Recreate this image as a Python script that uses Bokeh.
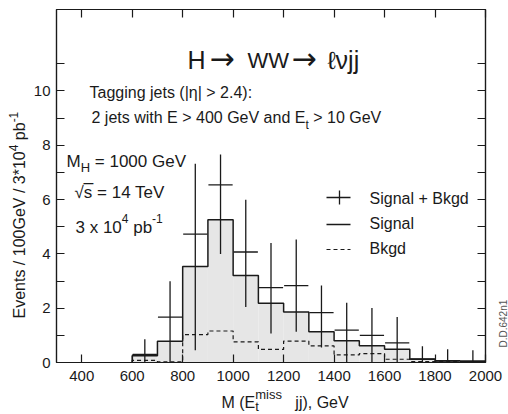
import math
from bokeh.plotting import figure
from bokeh.models import LinearAxis, FixedTicker, Range1d
from bokeh.core.properties import value
from bokeh.embed import file_html
from bokeh.resources import INLINE

# ---------------- data ----------------
bin_edges = [600, 700, 800, 900, 1000, 1100, 1200, 1300, 1400, 1500, 1600, 1700, 1800, 1900, 2000]
signal = [0.25, 0.78, 3.54, 5.26, 3.20, 2.18, 1.86, 1.13, 0.80, 0.62, 0.49, 0.13, 0.06, 0.05]
bkgd = [0.08, 0.02, 1.03, 1.16, 0.76, 0.48, 0.79, 0.61, 0.28, 0.33, 0.12, 0.03, 0.03, 0.03]
sig_bkgd = [0.30, 1.67, 4.73, 6.54, 4.07, 2.76, 2.83, 1.84, 1.19, 1.00, 0.72, 0.12, 0.05, 0.05]
sig_bkgd_hi = [0.86, 2.99, 7.32, 7.66, 5.99, 4.40, 4.53, 2.84, 2.20, 2.01, 1.68, 0.60, 0.49, 0.45]
sig_bkgd_lo = [0.0, 0.0, 0.45, 4.00, 2.04, 1.07, 1.13, 0.55, 0.0, 0.0, 0.0, 0.0, 0.0, 0.0]

x_ticks = [400, 600, 800, 1000, 1200, 1400, 1600, 1800, 2000]
y_ticks = [0, 2, 4, 6, 8, 10]
y_minor = [1, 3, 5, 7, 9, 11]

# ---------------- style / geometry ----------------
FONT = "Liberation Sans"
INK = "#1a1a1a"
FILL = "#e6e6e6"
X_MIN, X_MAX, Y_MIN, Y_MAX = 300, 2000, 0, 13
FL, FR, FT, FB = 56, 485, 9, 362   # frame edges in page pixels
BASE_FIX = 0.3                      # text baseline correction (fraction of font size)


def dx(px):
    return X_MIN + (px - FL) * (X_MAX - X_MIN) / (FR - FL)


def dy(py):
    return Y_MIN + (FB - py) * (Y_MAX - Y_MIN) / (FB - FT)


W = {' ': 278, '!': 278, '(': 333, ')': 333, '*': 389, '+': 584, ',': 278, '-': 333,
     '.': 278, '/': 278, ':': 278, '=': 584, '>': 584, '|': 260, '_': 556,
     'A': 667, 'B': 667, 'D': 722, 'E': 667, 'G': 778, 'H': 722, 'I': 278, 'M': 833,
     'T': 611, 'V': 667, 'W': 944,
     'a': 556, 'b': 556, 'd': 556, 'e': 556, 'g': 556, 'h': 556, 'i': 222, 'j': 222,
     'k': 500, 'l': 222, 'm': 833, 'n': 556, 'p': 556, 's': 500, 't': 278, 'v': 500,
     'w': 722, 'x': 500, 'η': 556, 'ν': 500, 'ℓ': 417, '√': 549, '→': 1000}


def tw(s, size):
    return sum(W.get(c, 556) for c in s) * size / 1000.0


p = figure(frame_width=FR - FL, frame_height=FB - FT,
           x_range=Range1d(X_MIN, X_MAX), y_range=Range1d(Y_MIN, Y_MAX),
           output_backend="svg", toolbar_location=None,
           min_border_left=FL, min_border_right=508 - FR,
           min_border_top=FT, min_border_bottom=414 - FB)
p.xgrid.visible = False
p.ygrid.visible = False
p.outline_line_color = INK
p.outline_line_width = 1.2
p.background_fill_color = "white"
p.border_fill_color = "white"


def style_axis(ax, ticks, minor=None, labels=True, tick_len=8, standoff=6):
    ax.ticker = FixedTicker(ticks=ticks, minor_ticks=minor or [])
    ax.major_tick_in = tick_len
    ax.major_tick_out = 0
    ax.minor_tick_in = tick_len if minor else 0
    ax.minor_tick_out = 0
    ax.major_tick_line_color = INK
    ax.minor_tick_line_color = INK
    ax.major_tick_line_width = 1.2
    ax.minor_tick_line_width = 1.2
    ax.axis_line_color = INK
    ax.axis_line_width = 1.2
    ax.major_label_text_font = FONT
    ax.major_label_text_color = INK
    if labels:
        ax.major_label_text_font_size = "15px"
        ax.major_label_standoff = standoff
    else:
        ax.major_label_text_font_size = "0px"
        ax.major_label_standoff = 0
        ax.major_label_overrides = {t: "" for t in ticks}


style_axis(p.xaxis[0], x_ticks, tick_len=8, standoff=8)
style_axis(p.yaxis[0], y_ticks, y_minor, tick_len=8, standoff=6)
top_axis = LinearAxis()
style_axis(top_axis, x_ticks, labels=False)
p.add_layout(top_axis, "above")
right_axis = LinearAxis()
style_axis(right_axis, sorted(y_ticks + y_minor), labels=False)
p.add_layout(right_axis, "right")

# ---------------- histograms ----------------
lefts = bin_edges[:-1]
rights = bin_edges[1:]
p.quad(left=lefts, right=rights, bottom=0, top=signal, fill_color=FILL, line_color=None)


def staircase(edges, vals):
    xs, ys = [edges[0]], [0]
    for i, v in enumerate(vals):
        xs += [edges[i], edges[i + 1]]
        ys += [v, v]
    return xs, ys


sx, sy = staircase(bin_edges, signal)
p.line(sx, sy, line_color=INK, line_width=1.5)
bx, by = staircase(bin_edges, bkgd)
p.line(bx, by, line_color=INK, line_width=1.2, line_dash="4 3")

centers = [(a + b) / 2 for a, b in zip(lefts, rights)]
half = [(b - a) * 0.48 for a, b in zip(lefts, rights)]
p.segment(x0=[c - h for c, h in zip(centers, half)], x1=[c + h for c, h in zip(centers, half)],
          y0=sig_bkgd, y1=sig_bkgd, line_color=INK, line_width=1.3)
p.segment(x0=centers, x1=centers, y0=sig_bkgd_lo, y1=sig_bkgd_hi, line_color=INK, line_width=1.3)


# ---------------- texts (text glyphs on the overlay level, so they may sit outside the frame) ----------------
def put(text, px, py, size, angle=0.0, align="left", color=INK, font=FONT):
    if angle:
        px -= BASE_FIX * size
    else:
        py -= BASE_FIX * size
    p.text(x=[dx(px)], y=[dy(py)], text=[text], angle=angle,
           text_font=value(font), text_font_size=f"{size}px", text_color=color,
           text_baseline="alphabetic", text_align=align, level="overlay")


def run(pieces, px, py):
    """pieces: (text, size, baseline_offset_px) laid out left to right"""
    x = px
    for text, size, off in pieces:
        lead = len(text) - len(text.lstrip(" "))
        x += tw(" " * lead, size)
        body = text.strip(" ")
        put(body, x, py + off, size)
        x += tw(body, size)


def run_up(pieces, px, py):
    """rotated 90 deg, reading upwards; offset moves the baseline leftwards"""
    y = py
    for text, size, off in pieces:
        lead = len(text) - len(text.lstrip(" "))
        y -= tw(" " * lead, size)
        body = text.strip(" ")
        put(body, px + off, y, size, angle=math.pi / 2)
        y -= tw(body, size)


# title
put("H", 187, 67, 25)
put("→", 209, 67, 30, font="DejaVu Sans")
put("WW", 247, 67, 22)
put("→", 291, 67, 30, font="DejaVu Sans")
put("ℓνjj", 327, 67, 25)

run([("Tagging jets (|η| > 2.4):", 16, 0)], 89, 97)
run([("2 jets with E > 400 GeV and E", 16, 0), ("t", 12, 6), (" > 10 GeV", 16, 0)], 91, 122)
run([("M", 17, 0), ("H", 13, 5), (" = 1000 GeV", 17, 0)], 66, 166)
run([("√s = 14 TeV", 17, 0)], 74, 197)
put("_", 74 + tw("√", 17), 180, 17)
run([("3 x 10", 17, 0), ("4", 12, -10), (" pb", 17, 0), ("-1", 12, -10)], 75, 232)

# legend (keys drawn in page-pixel positions converted to data units)
leg_x0, leg_x1, leg_xm = 326, 350, 339
rows = [197, 222, 247]
p.segment(x0=[dx(leg_x0)], x1=[dx(leg_x1)], y0=[dy(rows[0])], y1=[dy(rows[0])], line_color=INK, line_width=1.3)
p.segment(x0=[dx(leg_xm)], x1=[dx(leg_xm)], y0=[dy(rows[0] - 7)], y1=[dy(rows[0] + 7)], line_color=INK, line_width=1.3)
p.segment(x0=[dx(leg_x0)], x1=[dx(leg_x1)], y0=[dy(rows[1] + 2)], y1=[dy(rows[1] + 2)], line_color=INK, line_width=1.5)
p.segment(x0=[dx(leg_x0)], x1=[dx(leg_x1)], y0=[dy(rows[2] + 2)], y1=[dy(rows[2] + 2)], line_color=INK, line_width=1.2, line_dash="4 3")
put("Signal + Bkgd", 369, rows[0] + 6, 16)
put("Signal", 369, rows[1] + 6, 16)
put("Bkgd", 369, rows[2] + 6, 16)

# axis titles (outside the frame)
run([("M (E", 16, 0), ("miss", 13, -9.5), ("   jj), GeV", 16, 0)], 221, 407)
put("t", 221 + tw("M (E", 16), 410, 13)
run_up([("Events / 100GeV / 3*10", 16, 0), ("4", 12, -7), (" pb", 16, 0), ("-1", 12, -7)], 23.5, 318)

# plate id at the right edge
put("D.D.642n1", 506, 347, 10, angle=math.pi / 2, color="#555555")

open("out.html", "w").write(file_html(p, INLINE))
